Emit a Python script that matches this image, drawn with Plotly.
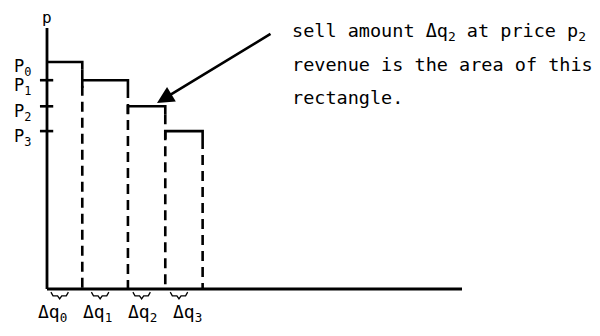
import plotly.graph_objects as go

PAGE_W = 600
PAGE_H = 336
BODY_MARGIN = 8  # the browser puts the figure 8px in from the page corner
FONT = "DejaVu Sans Mono"
INK = "black"

# price schedule: each step sells an amount dq at price p
DQ_LABELS = ["Δq<sub>0</sub>", "Δq<sub>1</sub>", "Δq<sub>2</sub>", "Δq<sub>3</sub>"]
P_LABELS = ["P<sub>0</sub>", "P<sub>1</sub>", "P<sub>2</sub>", "P<sub>3</sub>"]
DQ = [0.85, 1.1, 0.9, 0.9]
PRICES = [8.7, 8.0, 7.0, 6.05]
NOTE_LINES = ["sell amount Δq<sub>2</sub> at price p<sub>2</sub>",
              "revenue is the area of this",
              "rectangle."]
AXIS_LEN = 10

# page-pixel placement of the origin and the scale of the drawing
ORIGIN_PX = (47, 289)
PX_PER_Q = 41.5
PX_PER_P = 26.1
# the typed dq labels sit a little off the step centres
DQ_LABEL_SHIFT = [-12, -8, -4, 4]


def q_of(px):
    return (px - ORIGIN_PX[0]) / PX_PER_Q


def p_of(py):
    return (ORIGIN_PX[1] - py) / PX_PER_P


def line(fig, xs, ys, width=2.6, dash="solid"):
    fig.add_trace(go.Scatter(x=xs, y=ys, mode="lines", hoverinfo="skip",
                             line=dict(color=INK, width=width, dash=dash)))


def main():
    fig = go.Figure()

    edges = [0]
    for d in DQ:
        edges.append(edges[-1] + d)

    # axes
    line(fig, [0, AXIS_LEN], [0, 0], width=2.8)
    line(fig, [0, 0], [0, AXIS_LEN], width=2.8)

    # price ticks on the vertical axis
    for p in PRICES[1:]:
        line(fig, [-0.17, 0.15], [p, p], width=2.6)

    drop = 0.3
    for i, p in enumerate(PRICES):
        left, right = edges[i], edges[i + 1]
        # solid top with short corners
        if i == 0:
            line(fig, [left, right, right], [p, p, p - drop])
        else:
            line(fig, [left, left, right, right], [p - drop, p, p, p - drop])
        # dashed side down to the quantity axis
        line(fig, [right, right], [p - drop, 0], width=2.6, dash="10px,6px")

        # small brace under each quantity step
        m = (left + right) / 2 - 0.12
        w = 0.21
        line(fig, [m - w, m - w + 0.05, m - 0.05, m, m + 0.05, m + w - 0.05, m + w],
             [-0.12, -0.26, -0.26, -0.38, -0.26, -0.26, -0.12], width=1.3)

        fig.add_annotation(x=(left + right) / 2, y=p_of(313), text=DQ_LABELS[i],
                           showarrow=False, xanchor="center", yanchor="middle",
                           xshift=DQ_LABEL_SHIFT[i],
                           font=dict(family=FONT, size=18, color=INK))
        fig.add_annotation(x=q_of(12), y=p, text=P_LABELS[i], showarrow=False,
                           xanchor="left", yanchor="middle", yshift=-6,
                           font=dict(family=FONT, size=17, color=INK))

    fig.add_annotation(x=0, y=AXIS_LEN, text="p", showarrow=False,
                       xanchor="center", yanchor="bottom", yshift=-1,
                       font=dict(family=FONT, size=16, color=INK))

    # arrow pointing at the third rectangle
    fig.add_annotation(x=q_of(157), y=p_of(103), ax=q_of(272), ay=p_of(33),
                       axref="x", ayref="y", text="", showarrow=True,
                       arrowhead=2, arrowsize=1.3, arrowwidth=2.6, arrowcolor=INK)

    for k, txt in enumerate(NOTE_LINES):
        fig.add_annotation(x=q_of(290), y=p_of(32 + 32.5 * k), text=txt,
                           showarrow=False, xanchor="left", yanchor="middle",
                           font=dict(family=FONT, size=18.5, color=INK))

    fig_w = PAGE_W - BODY_MARGIN
    fig_h = PAGE_H - BODY_MARGIN
    fig.update_xaxes(visible=False, range=[q_of(BODY_MARGIN), q_of(PAGE_W)])
    fig.update_yaxes(visible=False, range=[p_of(PAGE_H), p_of(BODY_MARGIN)])
    fig.update_layout(width=fig_w, height=fig_h, showlegend=False,
                      margin=dict(l=0, r=0, t=0, b=0),
                      paper_bgcolor="white", plot_bgcolor="white")
    fig.write_html("out.html")


if __name__ == "__main__":
    main()
